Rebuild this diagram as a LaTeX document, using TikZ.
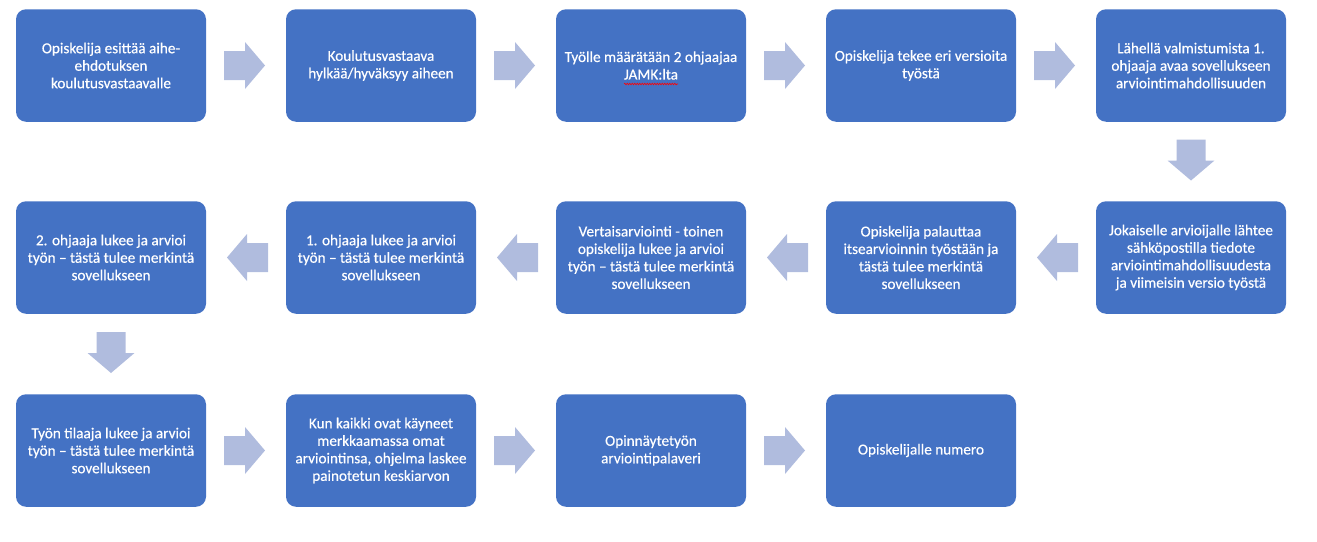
\documentclass[tikz,border=0pt]{standalone}
\usepackage{fontspec}
\setmainfont{Carlito}
\newfontfamily\boxfont{Carlito}[FakeBold=0.4]
\usetikzlibrary{calc,decorations.pathmorphing}
\definecolor{boxblue}{RGB}{68,114,196}
\definecolor{arrblue}{RGB}{176,188,222}
\tikzset{
    stepbox/.style={fill=boxblue, rounded corners=10pt, minimum width=190pt, minimum height=112.5pt,
        inner sep=0pt, text=white, align=center, font=\boxfont\fontsize{15.2}{17.5}\selectfont},
    blockarrow/.pic={\fill[arrblue] (-22,-14.5) -- (-1,-14.5) -- (-1,-23.5) -- (19,0) -- (-1,23.5) -- (-1,14.5) -- (-22,14.5) -- cycle;}
}
\begin{document}
\begin{tikzpicture}[x=1pt, y=-1pt]
    \useasboundingbox (0,0) rectangle (1317,541);
    %\draw[help lines, step=10] (0,0) grid (1317,541);
    % column and row centres
    \def\Xa{111}
    \def\Xb{381}
    \def\Xc{651}
    \def\Xd{921}
    \def\Xe{1191}
    \def\Ya{65.5}
    \def\Yb{257.5}
    \def\Yc{450.5}
    % first row
    \node[stepbox] (S1) at (\Xa,\Ya) {Opiskelija esittää aihe-\\ehdotuksen\\koulutusvastaavalle};
    \node[stepbox] (S2) at (\Xb,\Ya) {Koulutusvastaava\\hylkää/hyväksyy aiheen};
    \node[stepbox] (S3) at (\Xc,\Ya) {Työlle määrätään 2 ohjaajaa\\JAMK:lta};
    \node[stepbox] (S4) at (\Xd,\Ya) {Opiskelija tekee eri versioita\\työstä};
    \node[stepbox] (S5) at (\Xe,\Ya) {Lähellä valmistumista 1.\\ohjaaja avaa sovellukseen\\arviointimahdollisuuden};
    % second row, right to left
    \node[stepbox] (S6) at (\Xe,\Yb) {Jokaiselle arvioijalle lähtee\\sähköpostilla tiedote\\arviointimahdollisuudesta\\ja viimeisin versio työstä};
    \node[stepbox] (S7) at (\Xd,\Yb) {Opiskelija palauttaa\\itsearvioinnin työstään ja\\tästä tulee merkintä\\sovellukseen};
    \node[stepbox] (S8) at (\Xc,\Yb) {Vertaisarviointi - toinen\\opiskelija lukee ja arvioi\\työn – tästä tulee merkintä\\sovellukseen};
    \node[stepbox] (S9) at (\Xb,\Yb) {1. ohjaaja lukee ja arvioi\\työn – tästä tulee merkintä\\sovellukseen};
    \node[stepbox] (S10) at (\Xa,\Yb) {2. ohjaaja lukee ja arvioi\\työn – tästä tulee merkintä\\sovellukseen};
    % third row
    \node[stepbox] (S11) at (\Xa,\Yc) {Työn tilaaja lukee ja arvioi\\työn – tästä tulee merkintä\\sovellukseen};
    \node[stepbox] (S12) at (\Xb,\Yc) {Kun kaikki ovat käyneet\\merkkaamassa omat\\arviointinsa, ohjelma laskee\\painotetun keskiarvon};
    \node[stepbox] (S13) at (\Xc,\Yc) {Opinnäytetyön\\arviointipalaveri};
    \node[stepbox] (S14) at (\Xd,\Yc) {Opiskelijalle numero};
    % spell check line under JAMK:lta
    \coordinate (J1) at ($(S3.center)+(-27,18.5)$);
    \coordinate (J2) at ($(S3.center)+(27,18.5)$);
    \draw[red, line width=0.6pt, decorate, decoration={snake, amplitude=0.8pt, segment length=2.5pt}] (J1) -- (J2);
    % block arrows
    \pic at ($(S1.east)!.5!(S2.west)$) {blockarrow};
    \pic at ($(S2.east)!.5!(S3.west)$) {blockarrow};
    \pic at ($(S3.east)!.5!(S4.west)$) {blockarrow};
    \pic at ($(S4.east)!.5!(S5.west)$) {blockarrow};
    \pic[rotate=-90] at ($(S5.south)!.5!(S6.north)$) {blockarrow};
    \pic[rotate=180] at ($(S6.west)!.5!(S7.east)$) {blockarrow};
    \pic[rotate=180] at ($(S7.west)!.5!(S8.east)$) {blockarrow};
    \pic[rotate=180] at ($(S8.west)!.5!(S9.east)$) {blockarrow};
    \pic[rotate=180] at ($(S9.west)!.5!(S10.east)$) {blockarrow};
    \pic[rotate=-90] at ($(S10.south)!.5!(S11.north)$) {blockarrow};
    \pic at ($(S11.east)!.5!(S12.west)$) {blockarrow};
    \pic at ($(S12.east)!.5!(S13.west)$) {blockarrow};
    \pic at ($(S13.east)!.5!(S14.west)$) {blockarrow};
\end{tikzpicture}
\end{document}
